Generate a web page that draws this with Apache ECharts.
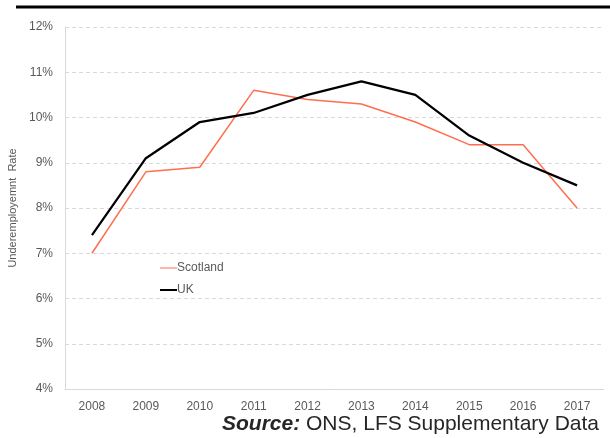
<!DOCTYPE html>
<html>
<head>
<meta charset="utf-8">
<script src="https://cdn.jsdelivr.net/npm/echarts@6/dist/echarts.min.js"></script>
<style>
  html, body { margin: 0; padding: 0; background: #fff; }
  #chart { width: 610px; height: 438px; }
</style>
</head>
<body>
<div id="chart"></div>
<script>
const years = ['2008', '2009', '2010', '2011', '2012', '2013', '2014', '2015', '2016', '2017'];
const scotland = [7.0, 8.8, 8.9, 10.6, 10.4, 10.3, 9.9, 9.4, 9.4, 8.0];
const uk = [7.4, 9.1, 9.9, 10.1, 10.5, 10.8, 10.5, 9.6, 9.0, 8.5];

const chart = echarts.init(document.getElementById('chart'));
const option = {
  animation: false,
  textStyle: { fontFamily: 'Liberation Sans, Arial, sans-serif' },
  grid: { left: 65, right: 6, top: 27, bottom: 49, outerBoundsMode: 'none', containLabel: false },
  legend: {
    orient: 'vertical',
    left: 155,
    top: 257,
    itemGap: 10,
    itemWidth: 17,
    itemHeight: 14,
    icon: 'path://M0,6 L17,6 L17,8 L0,8 Z',
    textStyle: { color: '#595959', fontSize: 12, padding: [0, 0, 0, -5] },
    data: [
      { name: 'Scotland', icon: 'path://M0,6.5 L17,6.5 L17,7.5 L0,7.5 Z' },
      { name: 'UK' }
    ]
  },
  xAxis: {
    type: 'category',
    data: years,
    boundaryGap: true,
    axisLine: { lineStyle: { color: '#d9d9d9', width: 1 } },
    axisTick: { show: false },
    axisLabel: { color: '#595959', fontSize: 12, margin: 12 }
  },
  yAxis: {
    type: 'value',
    min: 4,
    max: 12,
    interval: 1,
    name: 'Underemployemnt  Rate',
    nameLocation: 'middle',
    nameGap: 46,
    nameTextStyle: { color: '#595959', fontSize: 11 },
    axisLine: { show: true, lineStyle: { color: '#d9d9d9', width: 1 } },
    axisTick: { show: false },
    axisLabel: { color: '#595959', fontSize: 12, margin: 12, formatter: v => v + '%' },
    splitLine: { lineStyle: { color: '#d9d9d9', type: [4, 3], width: 1 } }
  },
  series: [
    {
      name: 'Scotland',
      type: 'line',
      data: scotland,
      symbol: 'none',
      lineStyle: { color: '#ff6e4f', width: 1.5 },
      itemStyle: { color: '#ff6e4f' }
    },
    {
      name: 'UK',
      type: 'line',
      data: uk,
      symbol: 'none',
      lineStyle: { color: '#000000', width: 2.25 },
      itemStyle: { color: '#000000' }
    }
  ],
  graphic: [
    {
      type: 'line',
      shape: { x1: 16, y1: 7, x2: 610, y2: 7 },
      style: { stroke: '#000', lineWidth: 3 }
    },
    {
      type: 'text',
      right: 11,
      top: 414,
      style: {
        text: '{b|Source:} ONS, LFS Supplementary Data',
        fill: '#262626',
        font: '21px Liberation Sans, Arial, sans-serif',
        rich: {
          b: { fontWeight: 'bold', fontStyle: 'italic', fontSize: 21, fill: '#262626' }
        }
      }
    }
  ]
};
chart.setOption(option);
</script>
</body>
</html>
